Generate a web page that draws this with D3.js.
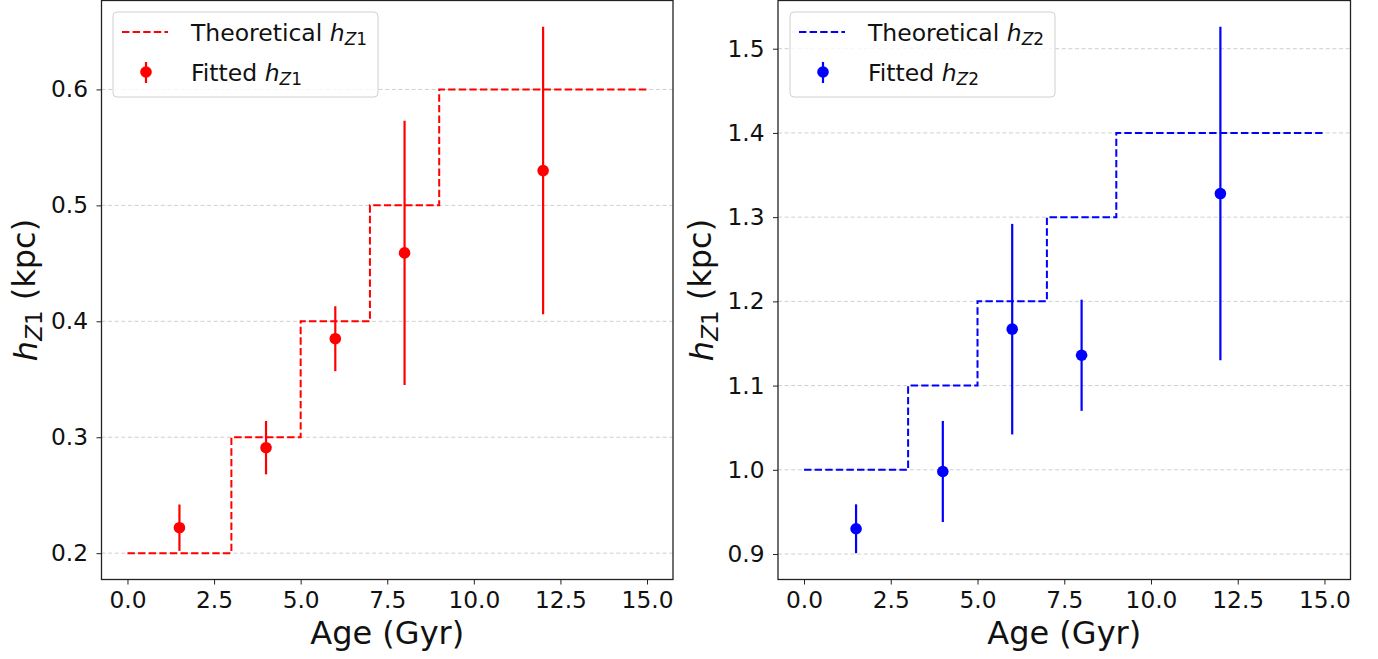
<!DOCTYPE html>
<html>
<head>
<meta charset="utf-8">
<script src="https://cdn.jsdelivr.net/npm/d3@7"></script>
<style>
  body { margin: 0; background: #fff; }
  svg { display: block; font-family: "DejaVu Sans", sans-serif; }
  .grid line { stroke: #cfcfcf; stroke-width: 1; stroke-dasharray: 4,2.6; }
</style>
</head>
<body>
<script>
(function(){

    //data
    var ages = [1.5, 4, 6, 8, 12]; //ages of the fitted samples (Gyr)
    var hz1Fit = [0.222, 0.291, 0.385, 0.459, 0.530];
    var hz1Err = [0.020, 0.023, 0.028, 0.114, 0.124];
    var hz2Fit = [0.930, 0.998, 1.167, 1.136, 1.328];
    var hz2Err = [0.029, 0.060, 0.125, 0.066, 0.198];

    //theoretical step profile, value held from each edge to the next
    var stepEdges = [0, 3, 5, 7, 9, 15];
    var hz1Theory = [0.2, 0.3, 0.4, 0.5, 0.6, 0.6];
    var hz2Theory = [1.0, 1.1, 1.2, 1.3, 1.4, 1.4];

    //tick labels
    var xTicks = [0, 2.5, 5, 7.5, 10, 12.5, 15];
    var hz1Ticks = [0.2, 0.3, 0.4, 0.5, 0.6];
    var hz2Ticks = [0.9, 1.0, 1.1, 1.2, 1.3, 1.4, 1.5];

    var width = 1378,
        height = 659;

    var svg = d3.select("body")
        .append("svg")
        .attr("width", width)
        .attr("height", height);

    setPanel({
        left: 101.5, right: 673, top: 0.5, bottom: 579.5,
        color: "#ff0000", sub: "1",
        fit: hz1Fit, err: hz1Err, theory: hz1Theory, yTicks: hz1Ticks,
        legendX: 113
    });

    setPanel({
        left: 778, right: 1350.5, top: 0.5, bottom: 579.5,
        color: "#0000ff", sub: "2",
        fit: hz2Fit, err: hz2Err, theory: hz2Theory, yTicks: hz2Ticks,
        legendX: 790
    });

    //matplotlib style 5% margin around the data
    function padExtent(vals){
        var ext = d3.extent(vals),
            pad = (ext[1] - ext[0]) * 0.05;
        return [ext[0] - pad, ext[1] + pad];
    };

    //write h_{Z n} as text with an italic h and a subscript
    function mathLabel(sel, prefix, sub, suffix){
        if (prefix) sel.append("tspan").text(prefix);
        sel.append("tspan").style("font-style", "italic").text("h");
        sel.append("tspan")
            .attr("dy", "0.22em")
            .style("font-size", "72%")
            .style("font-style", "italic")
            .text("Z");
        sel.append("tspan")
            .style("font-size", "72%")
            .text(sub);
        if (suffix) {
            sel.append("tspan")
                .attr("dy", "-0.22em")
                .text(suffix);
        }
    };

    function setPanel(cfg){
        var g = svg.append("g");

        //x covers the step line and the samples
        var xScale = d3.scaleLinear()
            .domain(padExtent(stepEdges.concat(ages)))
            .range([cfg.left, cfg.right]);

        //y covers the step line and every error bar end
        var yVals = cfg.theory.slice();
        cfg.fit.forEach(function(v, i){
            yVals.push(v - cfg.err[i], v + cfg.err[i]);
        });
        var yScale = d3.scaleLinear()
            .domain(padExtent(yVals))
            .range([cfg.bottom, cfg.top]);

        //horizontal grid lines
        g.append("g")
            .attr("class", "grid")
            .selectAll("line")
            .data(cfg.yTicks)
            .enter()
            .append("line")
            .attr("x1", cfg.left)
            .attr("x2", cfg.right)
            .attr("y1", function(d){ return yScale(d); })
            .attr("y2", function(d){ return yScale(d); });

        //theoretical step line
        var stepLine = d3.line()
            .x(function(d, i){ return xScale(stepEdges[i]); })
            .y(function(d){ return yScale(d); })
            .curve(d3.curveStepAfter);

        g.append("path")
            .datum(cfg.theory)
            .attr("d", stepLine)
            .attr("fill", "none")
            .attr("stroke", cfg.color)
            .attr("stroke-width", 2)
            .attr("stroke-dasharray", "7.4,3.2");

        //error bars, no caps
        g.selectAll(".errbar")
            .data(ages)
            .enter()
            .append("line")
            .attr("class", "errbar")
            .attr("x1", function(d){ return xScale(d); })
            .attr("x2", function(d){ return xScale(d); })
            .attr("y1", function(d, i){ return yScale(cfg.fit[i] - cfg.err[i]); })
            .attr("y2", function(d, i){ return yScale(cfg.fit[i] + cfg.err[i]); })
            .attr("stroke", cfg.color)
            .attr("stroke-width", 2.2);

        //fitted points
        g.selectAll(".pt")
            .data(ages)
            .enter()
            .append("circle")
            .attr("class", "pt")
            .attr("cx", function(d){ return xScale(d); })
            .attr("cy", function(d, i){ return yScale(cfg.fit[i]); })
            .attr("r", 5.8)
            .attr("fill", cfg.color);

        //axes
        var xAxis = d3.axisBottom(xScale)
            .tickValues(xTicks)
            .tickSize(5)
            .tickPadding(7)
            .tickFormat(d3.format(".1f"));

        var yAxis = d3.axisLeft(yScale)
            .tickValues(cfg.yTicks)
            .tickSize(5)
            .tickPadding(8.5)
            .tickFormat(d3.format(".1f"));

        var xg = g.append("g")
            .attr("transform", "translate(0," + cfg.bottom + ")")
            .call(xAxis);
        var yg = g.append("g")
            .attr("transform", "translate(" + cfg.left + ",0)")
            .call(yAxis);

        [xg, yg].forEach(function(ax){
            ax.select(".domain").remove();
            ax.selectAll("line").attr("stroke", "#222").attr("stroke-width", 1);
            ax.selectAll("text")
                .attr("fill", "#111")
                .style("font-family", "DejaVu Sans")
                .style("font-size", "23.3px");
        });

        //frame
        g.append("rect")
            .attr("x", cfg.left)
            .attr("y", cfg.top)
            .attr("width", cfg.right - cfg.left)
            .attr("height", cfg.bottom - cfg.top)
            .attr("fill", "none")
            .attr("stroke", "#222")
            .attr("stroke-width", 1.3);

        //axis titles
        g.append("text")
            .attr("x", (cfg.left + cfg.right) / 2)
            .attr("y", 644)
            .attr("text-anchor", "middle")
            .style("font-size", "32px")
            .attr("fill", "#111")
            .text("Age (Gyr)");

        var yTitle = g.append("text")
            .attr("transform", "translate(" + (cfg.left - 65) + "," + ((cfg.top + cfg.bottom) / 2) + ") rotate(-90)")
            .attr("text-anchor", "middle")
            .style("font-size", "32px")
            .attr("fill", "#111");
        mathLabel(yTitle, null, "1", " (kpc)");

        //legend
        var lx = cfg.legendX;
        g.append("rect")
            .attr("x", lx)
            .attr("y", 12)
            .attr("width", 265)
            .attr("height", 85)
            .attr("rx", 4)
            .attr("fill", "#fff")
            .attr("fill-opacity", 0.8)
            .attr("stroke", "#d0d0d0")
            .attr("stroke-width", 1);

        g.append("line")
            .attr("x1", lx + 9)
            .attr("x2", lx + 55)
            .attr("y1", 32)
            .attr("y2", 32)
            .attr("stroke", cfg.color)
            .attr("stroke-width", 2)
            .attr("stroke-dasharray", "7.4,3.2");

        g.append("line")
            .attr("x1", lx + 33)
            .attr("x2", lx + 33)
            .attr("y1", 62)
            .attr("y2", 83)
            .attr("stroke", cfg.color)
            .attr("stroke-width", 2.2);
        g.append("circle")
            .attr("cx", lx + 33)
            .attr("cy", 72)
            .attr("r", 5.8)
            .attr("fill", cfg.color);

        var t1 = g.append("text")
            .attr("x", lx + 78)
            .attr("y", 41)
            .style("font-size", "23.5px")
            .attr("fill", "#111");
        mathLabel(t1, "Theoretical ", cfg.sub, null);

        var t2 = g.append("text")
            .attr("x", lx + 78)
            .attr("y", 81)
            .style("font-size", "23.5px")
            .attr("fill", "#111");
        mathLabel(t2, "Fitted ", cfg.sub, null);
    };

})();
</script>
</body>
</html>
